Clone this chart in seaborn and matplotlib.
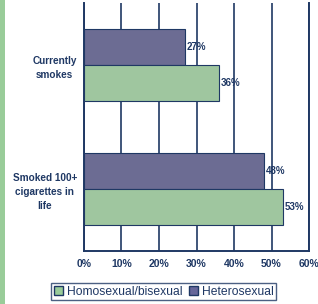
import matplotlib
matplotlib.use("Agg")
import matplotlib.pyplot as plt
import seaborn as sns
import pandas as pd
from matplotlib.patches import Patch, Rectangle

categories = ["Currently\nsmokes", "Smoked 100+\ncigarettes in\nlife"]
groups = ["Heterosexual", "Homosexual/bisexual"]
hetero = [27, 48]
homo = [36, 53]
xticks = [0, 10, 20, 30, 40, 50, 60]

colors = {"Heterosexual": "#666699", "Homosexual/bisexual": "#99CC99"}
navy = "#1F3864"

df = pd.DataFrame({
    "category": categories * 2,
    "group": [groups[0]] * 2 + [groups[1]] * 2,
    "value": hetero + homo,
})

sns.set_theme(style="white")
plt.rcParams["font.family"] = ["Liberation Sans", "DejaVu Sans"]

fig = plt.figure(figsize=(3.18, 3.04), dpi=100)
ax = fig.add_axes([0.264, 0.174, 0.708, 0.816])

sns.barplot(data=df, y="category", x="value", hue="group", order=categories,
            hue_order=groups, palette=colors, orient="h", width=0.58,
            edgecolor=navy, linewidth=0.8, ax=ax, legend=False, zorder=3)

for c in ax.containers:
    ax.bar_label(c, labels=[f"{v:.0f}%" for v in c.datavalues], padding=1,
                 fontsize=7, fontweight="bold", color=navy)

ax.set_xlim(0, 60)
ax.set_xticks(xticks)
ax.set_xticklabels([f"{t}%" for t in xticks], fontsize=7.5, fontweight="bold", color=navy)
ax.set_ylim(1.5, -0.5)
ax.set_yticks([0, 1])
ax.set_yticklabels(categories, fontsize=7.2, fontweight="bold", color=navy, ha="right",
                   multialignment="center", linespacing=1.5)
ax.tick_params(axis="y", length=0, pad=5)
ax.tick_params(axis="x", length=0, pad=6)
ax.set_yticks([0.5, 1.5], minor=True)
ax.tick_params(axis="y", which="minor", length=4, color=navy, width=1)
ax.set_xlabel("")
ax.set_ylabel("")
ax.xaxis.grid(True, color=navy, linewidth=1.2, zorder=0)
ax.set_axisbelow(True)
ax.spines["top"].set_visible(False)
for s in ["left", "bottom", "right"]:
    ax.spines[s].set_color(navy)
    ax.spines[s].set_linewidth(1.4)

# green stripe at left edge
fig.patches.append(Rectangle((0, 0), 5 / 318, 1, transform=fig.transFigure,
                             facecolor="#99CC99", edgecolor="none"))

handles = [Patch(facecolor=colors["Homosexual/bisexual"], edgecolor=navy, label="Homosexual/bisexual"),
           Patch(facecolor=colors["Heterosexual"], edgecolor=navy, label="Heterosexual")]
leg = fig.legend(handles=handles, loc="center", bbox_to_anchor=(0.515, 0.04), ncol=2,
                 frameon=True, fontsize=8.7, handlelength=0.8, handleheight=0.8,
                 handletextpad=0.3, columnspacing=0.5, borderpad=0.2, fancybox=False)
leg.get_frame().set_edgecolor(navy)
leg.get_frame().set_linewidth(1)
for t in leg.get_texts():
    t.set_color(navy)

fig.savefig("out.png", dpi=100)
